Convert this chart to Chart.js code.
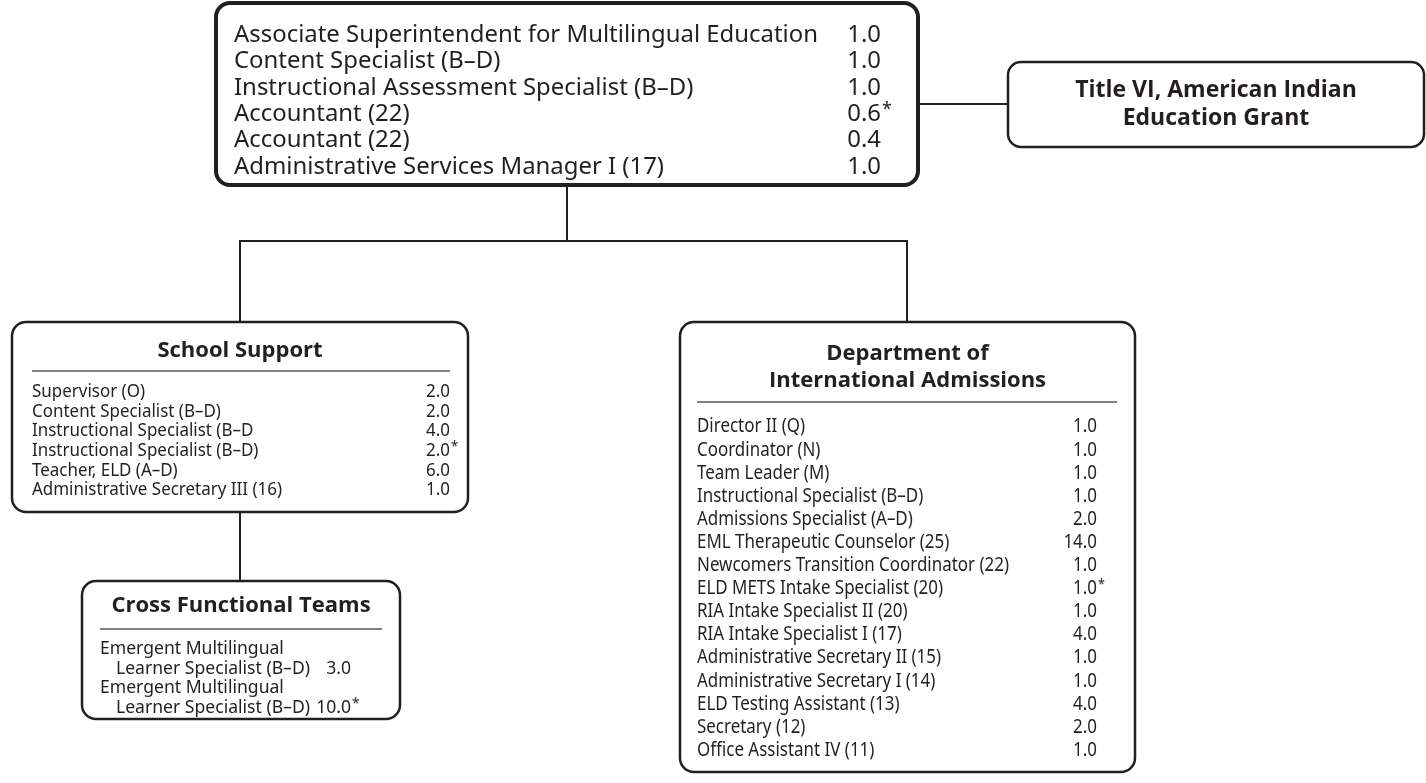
<!DOCTYPE html>
<html>
<head>
<meta charset="utf-8">
<script src="https://cdn.jsdelivr.net/npm/chart.js@4.4.1/dist/chart.umd.min.js"></script>
<style>
  html, body { margin: 0; padding: 0; background: #fff; }
  #wrap { width: 1426px; height: 783px; }
</style>
</head>
<body>
<div id="wrap"><canvas id="orgChart"></canvas></div>
<script>
// office of multilingual education - positions and FTE
const topRoles = [
  "Associate Superintendent for Multilingual Education",
  "Content Specialist (B–D)",
  "Instructional Assessment Specialist (B–D)",
  "Accountant (22)",
  "Accountant (22)",
  "Administrative Services Manager I (17)",
];
const topFte = [1.0, 1.0, 1.0, 0.6, 0.4, 1.0];
const topFlag = [0, 0, 0, 1, 0, 0];

const grantTitle = ["Title VI, American Indian", "Education Grant"];

const schoolTitle = ["School Support"];
const schoolRoles = [
  "Supervisor (O)",
  "Content Specialist (B–D)",
  "Instructional Specialist (B–D",
  "Instructional Specialist (B–D)",
  "Teacher, ELD (A–D)",
  "Administrative Secretary III (16)",
];
const schoolFte = [2.0, 2.0, 4.0, 2.0, 6.0, 1.0];
const schoolFlag = [0, 0, 0, 1, 0, 0];

const crossTitle = ["Cross Functional Teams"];
const crossRoles = [
  ["Emergent Multilingual", "Learner Specialist (B–D)"],
  ["Emergent Multilingual", "Learner Specialist (B–D)"],
];
const crossFte = [3.0, 10.0];
const crossFlag = [0, 1];

const deptTitle = ["Department of", "International Admissions"];
const deptRoles = [
  "Director II (Q)",
  "Coordinator (N)",
  "Team Leader (M)",
  "Instructional Specialist (B–D)",
  "Admissions Specialist (A–D)",
  "EML Therapeutic Counselor (25)",
  "Newcomers Transition Coordinator (22)",
  "ELD METS Intake Specialist (20)",
  "RIA Intake Specialist II (20)",
  "RIA Intake Specialist I (17)",
  "Administrative Secretary II (15)",
  "Administrative Secretary I (14)",
  "ELD Testing Assistant (13)",
  "Secretary (12)",
  "Office Assistant IV (11)",
];
const deptFte = [1.0, 1.0, 1.0, 1.0, 2.0, 14.0, 1.0, 1.0, 1.0, 4.0, 1.0, 1.0, 4.0, 2.0, 1.0];
const deptFlag = [0, 0, 0, 0, 0, 0, 0, 1, 0, 0, 0, 0, 0, 0, 0];

// layout (in scale units, 0..1426 x 0..783)
const INK = "#231f20";
const BODY = '"Noto Sans", "Open Sans", sans-serif';
const HEAD = '"Open Sans", "Noto Sans", sans-serif';

const boxes = [
  { x0: 216, y0: 3, x1: 918, y1: 185, r: 14, lw: 4,
    roles: topRoles, fte: topFte, flag: topFlag,
    size: 24, rowY: 35, step: 26.4, textX: 234, valX: 881, fitW: 584 },
  { x0: 1008, y0: 62, x1: 1424, y1: 147, r: 13, lw: 2.5,
    title: grantTitle, titleY: 90, titleStep: 28, titleSize: 23 },
  { x0: 12, y0: 322, x1: 468, y1: 512, r: 14, lw: 2.5,
    title: schoolTitle, titleY: 351, titleStep: 0, titleSize: 22, rule: [32, 450, 371],
    roles: schoolRoles, fte: schoolFte, flag: schoolFlag,
    size: 18, rowY: 392, step: 19.6, textX: 32, valX: 450, fitW: 250 },
  { x0: 82, y0: 581, x1: 400, y1: 719, r: 14, lw: 2.5,
    title: crossTitle, titleY: 606, titleStep: 0, titleSize: 22, rule: [100, 382, 629],
    roles: crossRoles, fte: crossFte, flag: crossFlag,
    size: 18, rowY: 649, step: 19.6, textX: 100, indent: 16, valX: 351, fitW: 194, fitLine: "Learner Specialist (B–D)" },
  { x0: 680, y0: 322, x1: 1135, y1: 772, r: 14, lw: 2.5,
    title: deptTitle, titleY: 354, titleStep: 27, titleSize: 22, rule: [697, 1117, 402],
    roles: deptRoles, fte: deptFte, flag: deptFlag,
    size: 19, rowY: 427, step: 23.1, textX: 697, valX: 1097, fitW: 312, fitLine: "Newcomers Transition Coordinator (22)" },
];

const links = [
  [[567, 185], [567, 241]],
  [[240, 241], [907, 241]],
  [[240, 240], [240, 322]],
  [[907, 240], [907, 322]],
  [[918, 104], [1008, 104]],
  [[240, 512], [240, 581]],
];

function roundBox(ctx, x0, y0, x1, y1, r) {
  ctx.beginPath();
  ctx.moveTo(x0 + r, y0);
  ctx.arcTo(x1, y0, x1, y1, r);
  ctx.arcTo(x1, y1, x0, y1, r);
  ctx.arcTo(x0, y1, x0, y0, r);
  ctx.arcTo(x0, y0, x1, y0, r);
  ctx.closePath();
}

function squeezed(ctx, txt, x, y, sx, align) {
  const w = ctx.measureText(txt).width * sx;
  const left = align === "right" ? x - w : x;
  ctx.save();
  ctx.translate(left, y);
  ctx.scale(sx, 1);
  ctx.fillText(txt, 0, 0);
  ctx.restore();
  return w;
}

const orgPlugin = {
  id: "orgPlugin",
  afterDraw(chart) {
    const ctx = chart.ctx;
    const X = (v) => chart.scales.x.getPixelForValue(v);
    const Y = (v) => chart.scales.y.getPixelForValue(v);
    ctx.save();
    ctx.strokeStyle = INK;
    ctx.fillStyle = INK;
    ctx.textBaseline = "middle";

    // connectors
    ctx.lineWidth = 2;
    links.forEach((l) => {
      ctx.beginPath();
      ctx.moveTo(X(l[0][0]), Y(l[0][1]));
      ctx.lineTo(X(l[1][0]), Y(l[1][1]));
      ctx.stroke();
    });

    boxes.forEach((b) => {
      ctx.fillStyle = "#fff";
      roundBox(ctx, X(b.x0), Y(b.y0), X(b.x1), Y(b.y1), b.r);
      ctx.fill();
      ctx.lineWidth = b.lw;
      ctx.strokeStyle = INK;
      ctx.stroke();
      ctx.fillStyle = INK;

      const cx = X((b.x0 + b.x1) / 2);
      if (b.title) {
        ctx.font = "bold " + b.titleSize + "px " + HEAD;
        ctx.textAlign = "center";
        b.title.forEach((t, i) => ctx.fillText(t, cx, Y(b.titleY + i * b.titleStep)));
        ctx.textAlign = "left";
      }
      if (b.rule) {
        ctx.save();
        ctx.strokeStyle = "#555";
        ctx.lineWidth = 1.5;
        ctx.beginPath();
        ctx.moveTo(X(b.rule[0]), Y(b.rule[2]));
        ctx.lineTo(X(b.rule[1]), Y(b.rule[2]));
        ctx.stroke();
        ctx.restore();
      }
      if (!b.roles) return;

      ctx.font = b.size + "px " + BODY;
      const ref = b.fitLine || b.roles.reduce((a, c) => (c.length > a.length ? c : a), "");
      const sx = b.fitW / ctx.measureText(ref).width;
      let row = 0;
      b.roles.forEach((role, i) => {
        const lines = Array.isArray(role) ? role : [role];
        lines.forEach((ln, j) => {
          const y = Y(b.rowY + (row + j) * b.step);
          squeezed(ctx, ln, X(b.textX + (j > 0 ? b.indent : 0)), y, sx, "left");
        });
        const vy = Y(b.rowY + (row + lines.length - 1) * b.step);
        squeezed(ctx, b.fte[i].toFixed(1), X(b.valX), vy, sx, "right");
        if (b.flag[i]) {
          ctx.font = Math.round(b.size * 0.75) + "px " + BODY;
          squeezed(ctx, "*", X(b.valX) + 1, vy - b.size * 0.2, sx, "left");
          ctx.font = b.size + "px " + BODY;
        }
        row += lines.length;
      });
    });
    ctx.restore();
  },
};

new Chart("orgChart", {
  type: "scatter",
  data: { datasets: [{ data: [], pointRadius: 0 }] },
  options: {
    responsive: true,
    maintainAspectRatio: false,
    animation: false,
    layout: { padding: 0 },
    plugins: { legend: { display: false }, tooltip: { enabled: false } },
    scales: {
      x: { type: "linear", min: 0, max: 1426, display: false },
      y: { type: "linear", min: 0, max: 783, reverse: true, display: false },
    },
  },
  plugins: [orgPlugin],
});
</script>
</body>
</html>
